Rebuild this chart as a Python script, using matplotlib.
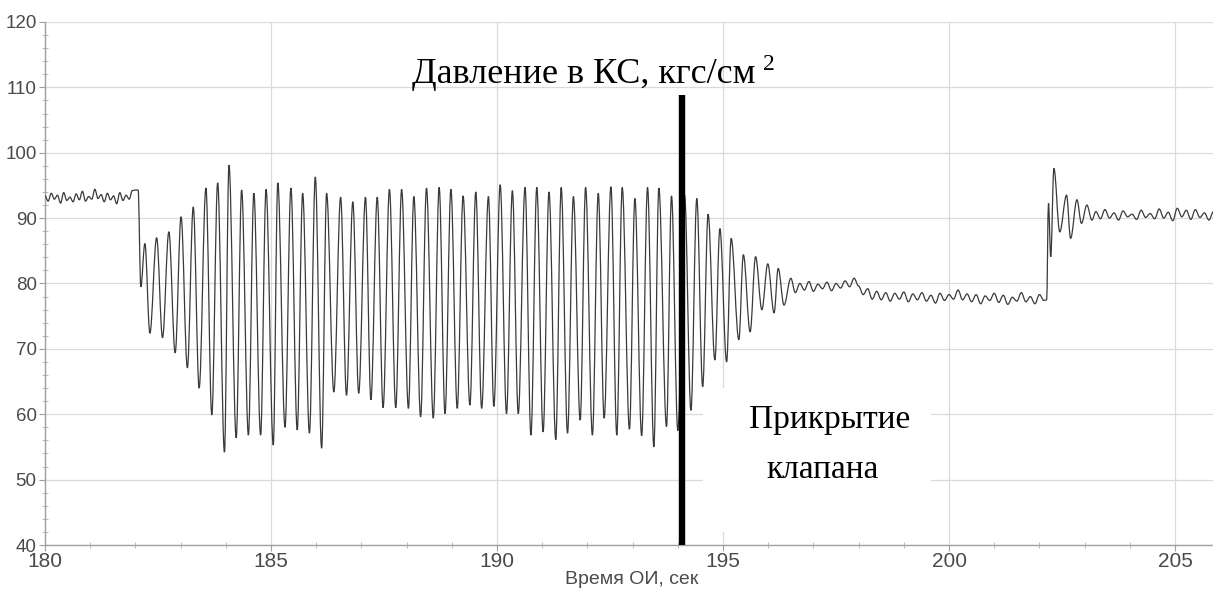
import numpy as np
import matplotlib
matplotlib.use("Agg")
import matplotlib.pyplot as plt
from matplotlib.ticker import MultipleLocator
from matplotlib.path import Path
from matplotlib.patches import PathPatch

# ---------------- data ----------------
# steady part before the instability (180.0 .. 182.0 s)
p_steady1 = [93.4, 92.6, 93.8, 92.9, 93.5, 92.3, 93.9, 92.7, 93.2, 92.5,
             93.7, 92.8, 94.1, 92.6, 93.3, 92.9, 94.4, 93.0, 93.6, 92.5,
             93.8, 92.8, 93.4, 92.2, 93.9, 92.7, 93.5, 92.9, 94.2, 94.3]
t_steady1_range = (180.0, 182.0)

# oscillation extrema (alternating peaks / troughs)
t_osc = [182.06, 182.12, 182.21, 182.32, 182.47, 182.60, 182.74, 182.88, 183.01, 183.15,
         183.28, 183.41, 183.56, 183.69, 183.82, 183.97, 184.07, 184.23, 184.35, 184.50,
         184.62, 184.77, 184.89, 185.05, 185.15, 185.31, 185.44, 185.58, 185.70, 185.85,
         185.98, 186.12, 186.23, 186.39, 186.54, 186.67, 186.81, 186.94, 187.09, 187.21,
         187.35, 187.48, 187.62, 187.76, 187.89, 188.04, 188.16, 188.31, 188.44, 188.59,
         188.72, 188.85, 188.98, 189.12, 189.25, 189.40, 189.53, 189.66, 189.81, 189.93,
         190.07, 190.21, 190.34, 190.47, 190.62, 190.75, 190.88, 191.02, 191.15, 191.30,
         191.42, 191.56, 191.69, 191.84, 191.96, 192.11, 192.24, 192.37, 192.52, 192.65,
         192.77, 192.93, 193.05, 193.20, 193.33, 193.47, 193.58, 193.75, 193.86, 194.00,
         194.15, 194.29, 194.42, 194.55, 194.67, 194.82, 194.93, 195.08, 195.18, 195.35,
         195.45, 195.60, 195.72, 195.86, 195.99, 196.13, 196.22, 196.35, 196.50]
p_osc = [94.3, 79.5, 86.1, 72.4, 87.0, 71.7, 87.9, 69.4, 90.2, 67.1,
         91.7, 64.0, 94.6, 59.9, 95.4, 54.2, 98.1, 56.4, 94.3, 56.8,
         93.8, 56.8, 94.4, 55.3, 95.4, 58.0, 94.6, 57.6, 93.8, 57.1,
         96.3, 54.8, 93.8, 63.4, 93.2, 62.9, 92.5, 63.2, 93.2, 62.2,
         93.2, 61.0, 94.4, 61.0, 94.4, 60.9, 93.3, 59.6, 94.6, 59.4,
         94.7, 60.1, 94.4, 60.9, 93.4, 61.4, 94.0, 60.9, 93.3, 61.2,
         95.1, 60.1, 94.2, 60.1, 94.7, 56.8, 94.7, 57.3, 94.0, 56.1,
         94.7, 57.1, 93.3, 59.1, 94.7, 56.8, 93.8, 59.4, 94.8, 56.8,
         94.7, 57.7, 93.0, 56.7, 94.7, 55.0, 94.6, 58.1, 93.4, 57.5,
         93.5, 60.6, 93.0, 64.2, 90.6, 68.3, 88.4, 68.0, 86.9, 71.4,
         84.4, 72.6, 84.1, 76.0, 83.0, 75.5, 82.3, 76.7, 80.8]

# low level after valve closing (196.6 .. 202.1 s)
p_low = [78.6, 80.0, 79.0, 80.3, 78.8, 79.9, 79.2, 80.2, 78.9, 80.0, 79.3, 80.4, 79.5, 80.8,
         79.6, 78.3, 79.2, 77.6, 78.8, 77.5, 78.6, 77.3, 78.5, 77.6, 78.7,
         77.2, 78.4, 77.5, 78.6, 77.3, 78.2, 77.0, 78.5, 77.4, 78.3, 77.6, 79.0, 77.5,
         78.4, 77.2, 78.3, 76.9, 78.1, 77.4, 78.5, 77.1, 78.2, 76.8, 77.9, 77.3, 78.6,
         77.2, 78.0, 76.9, 78.3, 77.4]
t_low_range = (196.6, 202.1)

# recovery jump
t_jump = [202.16, 202.20, 202.25, 202.32, 202.45, 202.60, 202.69, 202.83, 202.93, 203.05, 203.16]
p_jump = [77.5, 92.3, 84.1, 97.6, 87.9, 93.5, 86.9, 92.8, 89.2, 92.0, 89.7]

# final steady level
p_end = [91.0, 89.9, 91.3, 90.0, 90.8, 89.7, 91.1, 90.2, 90.6, 89.8,
         91.2, 90.1, 90.7, 89.9, 91.4, 90.0, 90.9, 89.6, 91.5, 90.2,
         91.2, 89.8, 91.3, 90.1, 90.8, 89.7, 91.0, 90.3]
t_end_range = (203.25, 205.95)

marker_t = 194.09
marker_top = 108.8

x_ticks = [180, 185, 190, 195, 200, 205]
y_ticks = [40, 50, 60, 70, 80, 90, 100, 110, 120]

title_text = "Давление в КС, кгс/см"
title_sup = "2"
note_line1 = "Прикрытие"
note_line2 = "клапана"
xlabel_text = "Время ОИ, сек"

# ---------------- assemble series ----------------
t_steady1 = np.linspace(*t_steady1_range, len(p_steady1))
t_low = np.linspace(*t_low_range, len(p_low))
t_end = np.linspace(*t_end_range, len(p_end))
t_all = np.concatenate([t_steady1, t_osc, t_low, t_jump, t_end])
p_all = np.concatenate([p_steady1, p_osc, p_low, p_jump, p_end])

# smooth (Bezier) rendering of the trace through the read points
k = 0.36
verts = [(t_all[0], p_all[0])]
codes = [Path.MOVETO]
for i in range(1, len(t_all)):
    t0, p0 = t_all[i - 1], p_all[i - 1]
    t1, p1 = t_all[i], p_all[i]
    dt = t1 - t0
    verts += [(t0 + k * dt, p0), (t1 - k * dt, p1), (t1, p1)]
    codes += [Path.CURVE4] * 3
trace = Path(verts, codes)

# ---------------- figure ----------------
fig = plt.figure(figsize=(12.13, 5.89), dpi=100)
ax = fig.add_axes([0.0371, 0.0747, 0.9629, 0.888])

ax.set_xlim(180, 205.84)
ax.set_ylim(40, 120)

ax.add_patch(PathPatch(trace, facecolor="none", edgecolor="#3a3a3a", lw=0.9, zorder=3))

ax.set_xticks(x_ticks)
ax.set_yticks(y_ticks)
ax.xaxis.set_minor_locator(MultipleLocator(1))
ax.yaxis.set_minor_locator(MultipleLocator(2))
ax.grid(True, which="major", color="#dadada", lw=0.9, zorder=0)
ax.set_axisbelow(True)

for s in ("top", "right"):
    ax.spines[s].set_visible(False)
for s in ("left", "bottom"):
    ax.spines[s].set_color("#a0a0a0")
    ax.spines[s].set_linewidth(1.0)

ax.tick_params(which="major", direction="out", length=4, color="#a0a0a0",
               labelcolor="#4a4a4a", pad=2)
ax.tick_params(axis="x", which="major", labelsize=15, pad=1)
ax.tick_params(axis="y", which="major", labelsize=13.5)
ax.tick_params(which="minor", direction="inout", length=4, color="#b0b0b0")
for lab in ax.get_xticklabels() + ax.get_yticklabels():
    lab.set_family("Liberation Sans")

fig.text(0.521, 0.002, xlabel_text, fontsize=14, color="#4a4a4a",
         family="Liberation Sans", ha="center", va="bottom")

# thick marker line
ax.plot([marker_t, marker_t], [40, marker_top], color="black", lw=4.6,
        solid_capstyle="butt", zorder=5)

# white box behind the note
ax.add_patch(plt.Rectangle((194.55, 42.0), 5.05, 22.0, facecolor="white",
                           edgecolor="none", zorder=1))

# texts
ax.text(191.91, 110.7, title_text, fontsize=26, family="Liberation Serif",
        ha="center", va="baseline", zorder=6)
ax.text(195.88, 112.7, title_sup, fontsize=17, family="Liberation Serif",
        ha="left", va="baseline", zorder=6)
ax.text(197.35, 57.9, note_line1, fontsize=24, family="Liberation Serif",
        ha="center", va="baseline", zorder=6)
ax.text(197.2, 50.3, note_line2, fontsize=24, family="Liberation Serif",
        ha="center", va="baseline", zorder=6)

fig.savefig("out.png", dpi=100)
